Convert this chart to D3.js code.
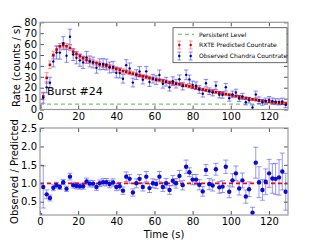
<html>
<head>
<script src="https://d3js.org/d3.v7.min.js"></script>
<style>
  body { margin: 0; background: #fff; }
  text { font-family: "DejaVu Sans", sans-serif; }
  .axis .domain { stroke: none; }
  .axis line { stroke: #555; }
  .axis text { font-size: 10px; fill: #000; }
</style>
</head>
<body>
<svg id="chart" width="320" height="240"></svg>
<script>
// time bins (s)
const times = [0, 1.7, 3.5, 5.2, 7.0, 8.7, 10.4, 12.2, 13.9, 15.7, 17.4, 19.1, 20.9, 22.6, 24.4,
  26.1, 27.8, 29.6, 31.3, 33.1, 34.8, 36.5, 38.3, 40.0, 41.8, 43.5, 45.2, 47.0, 48.7, 50.5,
  52.2, 53.9, 55.7, 57.4, 59.2, 60.9, 62.6, 64.4, 66.1, 67.9, 69.6, 71.3, 73.1, 74.8, 76.6,
  78.3, 80.0, 81.8, 83.5, 85.3, 87.0, 88.7, 90.5, 92.2, 94.0, 95.7, 97.4, 99.2, 100.9, 102.7,
  104.4, 106.1, 107.9, 109.6, 111.4, 113.1, 114.8, 116.6, 118.3, 120.1, 121.8, 123.5, 125.3, 127.0, 128.8];

// RXTE predicted countrate
const predicted = [3, 12, 29, 41, 50, 55, 58, 59, 58, 56.5, 53, 51, 49, 47, 45.5,
  44.5, 43.5, 42.5, 41.5, 40.5, 40, 39.3, 38.3, 37.3, 36.3, 35.3, 34.5, 33.7, 32.9, 32,
  31.2, 30.4, 29.7, 29, 28.3, 27.6, 26.9, 26.2, 25.5, 24.9, 24.3, 23.7, 23.1, 22.5, 21.9,
  21.2, 20.5, 19.8, 19.1, 18.4, 17.7, 17.1, 16.5, 15.9, 15.3, 14.7, 14.1, 13.5, 12.9, 12.3,
  11.7, 11.1, 10.5, 10, 9.3, 8.8, 8.3, 7.9, 7.5, 7.1, 6.8, 6.4, 6.0, 5.7, 5.4];
const predictedErr = [1, 3, 5, 3.5, 3.5, 3, 2.5, 2.5, 2.5, 2.5, 2, 2, 2, 2, 2,
  2, 2, 2, 2, 2, 2, 2, 2, 2, 2, 2, 1.8, 1.8, 1.8, 1.8,
  1.6, 1.6, 1.6, 1.6, 1.5, 1.5, 1.5, 1.5, 1.5, 1.4, 1.4, 1.4, 1.4, 1.3, 1.3,
  1.3, 1.3, 1.2, 1.2, 1.2, 1.2, 1.2, 1.1, 1.1, 1.1, 1.1, 1, 1, 1, 1,
  1, 1, 1, 1, 1, 1, 1, 1, 1, 1, 1, 1, 1, 1, 1];

// observed Chandra countrate
const observed = [0.4, 10.8, 20.3, 24.6, 44, 52.3, 52.2, 60.8, 49.3, 66.7, 50.4, 47.4, 45.1, 43.2, 47.8,
  44.1, 43.1, 38.3, 41.5, 41.7, 41.2, 38.5, 39.1, 33.6, 33.4, 28.2, 40.7, 37.7, 24.7, 32,
  34.9, 27.4, 35, 25.2, 28.3, 27, 31.7, 23.6, 25.5, 20.4, 26, 23.7, 27.7, 21.4, 31.8,
  27.6, 22.6, 21.8, 18.3, 14.4, 24.1, 16.8, 15.5, 21.9, 13.6, 13.4, 20.4, 10.4, 13.9, 15.6,
  10.1, 12, 6.7, 8.4, 1.9, 13.7, 8.5, 6.5, 7.8, 9, 7.7, 7.2, 7, 7.5, 4.2];
const observedErr = [1, 5, 5, 5, 5, 6, 6, 6, 6, 7, 5.5, 5.5, 5.5, 5.5, 5.5,
  5, 5, 5, 5, 5, 5, 5, 5, 4.5, 4.5, 4, 5, 5, 4, 4.5,
  4.5, 4, 4.5, 4, 4, 4, 4.5, 4, 4, 3.5, 4, 4, 4, 3.5, 4.5,
  4, 3.5, 3.5, 3.5, 3, 3.5, 3, 3, 3.5, 3, 3, 3.5, 2.8, 3, 3,
  2.8, 2.8, 2.5, 2.5, 2.2, 3.2, 3, 2.6, 2.7, 2.9, 2.8, 2.7, 2.8, 2.9, 2.6];

// observed / predicted
const ratio = [0.14, 0.9, 0.70, 0.6, 0.88, 0.95, 0.9, 1.03, 0.85, 1.18, 0.95, 0.93, 0.92, 0.92, 1.05,
  0.99, 0.99, 0.9, 1.0, 1.03, 1.03, 0.98, 1.02, 0.9, 0.92, 0.8, 1.18, 1.12, 0.75, 1.0,
  1.12, 0.9, 1.18, 0.87, 1.0, 0.98, 1.18, 0.9, 1.0, 0.82, 1.07, 1.0, 1.2, 0.95, 1.45,
  1.3, 1.1, 1.1, 0.96, 0.78, 1.36, 0.98, 0.94, 1.38, 0.89, 0.91, 1.45, 0.77, 1.08, 1.27,
  0.86, 1.08, 0.64, 0.84, 0.2, 1.56, 1.03, 0.82, 1.04, 1.27, 1.13, 1.12, 1.16, 1.32, 0.77];
const ratioErr = [0.03, 0.57, 0.12, 0.08, 0.08, 0.08, 0.07, 0.07, 0.07, 0.09, 0.08, 0.08, 0.08, 0.08, 0.09,
  0.09, 0.09, 0.09, 0.09, 0.1, 0.1, 0.1, 0.1, 0.1, 0.1, 0.1, 0.13, 0.12, 0.1, 0.12,
  0.12, 0.11, 0.14, 0.12, 0.12, 0.12, 0.14, 0.12, 0.13, 0.12, 0.14, 0.13, 0.15, 0.13, 0.18,
  0.12, 0.14, 0.14, 0.14, 0.13, 0.15, 0.15, 0.15, 0.16, 0.16, 0.16, 0.18, 0.16, 0.18, 0.2,
  0.18, 0.2, 0.18, 0.2, 0.15, 0.42, 0.42, 0.28, 0.35, 0.38, 0.4, 0.42, 0.48, 0.5, 0.5];

const persistentLevel = 5;
const legendLabels = ["Persistent Level", "RXTE Predicted Countrate", "Observed Chandra Countrate"];

const svg = d3.select("#chart");

const x = d3.scaleLinear().domain([0, 130]).range([40, 288]);
const yTop = d3.scaleLinear().domain([0, 80]).range([109.5, 22.3]);
const yBot = d3.scaleLinear().domain([0.14, 2.5]).range([215, 128]);

function drawAxes(y, yTicks, yFmt) {
  const [r0, r1] = x.range();
  const [b, t] = y.range();
  svg.append("g").attr("class", "axis").attr("transform", `translate(0,${b})`)
    .call(d3.axisBottom(x).tickValues([0, 20, 40, 60, 80, 100, 120]).tickSizeInner(-4).tickSizeOuter(0).tickPadding(3));
  svg.append("g").attr("class", "axis").attr("transform", `translate(0,${t})`)
    .call(d3.axisTop(x).tickValues([0, 20, 40, 60, 80, 100, 120]).tickSizeInner(-4).tickSizeOuter(0).tickFormat(""));
  svg.append("g").attr("class", "axis").attr("transform", `translate(${r0},0)`)
    .call(d3.axisLeft(y).tickValues(yTicks).tickFormat(yFmt).tickSizeInner(-4).tickSizeOuter(0).tickPadding(3));
  svg.append("g").attr("class", "axis").attr("transform", `translate(${r1},0)`)
    .call(d3.axisRight(y).tickValues(yTicks).tickSizeInner(-4).tickSizeOuter(0).tickFormat(""));
  svg.append("rect").attr("x", r0).attr("y", t).attr("width", r1 - r0).attr("height", b - t)
    .attr("fill", "none").attr("stroke", "#999").attr("stroke-width", 1.2);
}

function errorBars(g, xs, ys, es, y, color, cap, sw) {
  const data = xs.map((t, i) => ({ t: t, v: ys[i], e: es[i] }));
  const grp = g.append("g").attr("stroke", color).attr("stroke-width", sw);
  grp.selectAll("line.v").data(data).join("line").attr("class", "v")
    .attr("x1", d => x(d.t)).attr("x2", d => x(d.t))
    .attr("y1", d => y(d.v - d.e)).attr("y2", d => y(d.v + d.e));
  grp.selectAll("line.lo").data(data).join("line").attr("class", "lo")
    .attr("x1", d => x(d.t) - cap).attr("x2", d => x(d.t) + cap)
    .attr("y1", d => y(d.v - d.e)).attr("y2", d => y(d.v - d.e));
  grp.selectAll("line.hi").data(data).join("line").attr("class", "hi")
    .attr("x1", d => x(d.t) - cap).attr("x2", d => x(d.t) + cap)
    .attr("y1", d => y(d.v + d.e)).attr("y2", d => y(d.v + d.e));
}

svg.append("clipPath").attr("id", "clipTop").append("rect")
  .attr("x", 40).attr("y", 22.3).attr("width", 248).attr("height", 87.2);
svg.append("clipPath").attr("id", "clipBot").append("rect")
  .attr("x", 40).attr("y", 128).attr("width", 248).attr("height", 87);

// ---- top panel
const topG = svg.append("g").attr("clip-path", "url(#clipTop)");
topG.append("line").attr("x1", x(0)).attr("x2", x(130))
  .attr("y1", yTop(persistentLevel)).attr("y2", yTop(persistentLevel))
  .attr("stroke", "#77c877").attr("stroke-width", 1.2).attr("stroke-dasharray", "4,3");
errorBars(topG, times, predicted, predictedErr, yTop, "rgba(255,80,80,0.6)", 2, 1);
errorBars(topG, times, observed, observedErr, yTop, "rgba(60,60,255,0.6)", 2.2, 1);
topG.selectAll("rect.pred").data(times).join("rect").attr("class", "pred")
  .attr("x", (d) => x(d) - 1.3).attr("y", (d, i) => yTop(predicted[i]) - 1.3)
  .attr("width", 2.6).attr("height", 2.6).attr("fill", "#c00000");
topG.selectAll("circle.obs").data(times).join("circle").attr("class", "obs")
  .attr("cx", d => x(d)).attr("cy", (d, i) => yTop(observed[i])).attr("r", 1.2).attr("fill", "#000080");

drawAxes(yTop, [0, 10, 20, 30, 40, 50, 60, 70, 80], d3.format("d"));

svg.append("text").attr("x", 47).attr("y", 94.5).attr("font-size", 11).text("Burst #24");

// legend
const lg = svg.append("g");
lg.append("rect").attr("x", 173).attr("y", 27.7).attr("width", 114).attr("height", 35)
  .attr("fill", "#fff").attr("stroke", "#444").attr("stroke-width", 0.8);
lg.append("line").attr("x1", 178).attr("x2", 194).attr("y1", 34.3).attr("y2", 34.3)
  .attr("stroke", "#77c877").attr("stroke-width", 1.2).attr("stroke-dasharray", "4,3");
[[45, "rgba(255,80,80,0.6)", "#c00000"], [56, "rgba(60,60,255,0.6)", "#000080"]].forEach(([ly, ec, mc]) => {
  [179.3, 190.7].forEach(lx => {
    lg.append("line").attr("x1", lx).attr("x2", lx).attr("y1", ly - 4).attr("y2", ly + 4).attr("stroke", ec);
    lg.append("line").attr("x1", lx - 2).attr("x2", lx + 2).attr("y1", ly - 4).attr("y2", ly - 4).attr("stroke", ec);
    lg.append("line").attr("x1", lx - 2).attr("x2", lx + 2).attr("y1", ly + 4).attr("y2", ly + 4).attr("stroke", ec);
    lg.append("circle").attr("cx", lx).attr("cy", ly).attr("r", 1.2).attr("fill", mc);
  });
});
lg.selectAll("text").data(legendLabels).join("text")
  .attr("x", 199).attr("y", (d, i) => [34.3, 45, 56][i] + 2.2)
  .attr("font-size", 6).attr("fill", "#000").text(d => d);

// ---- bottom panel
const botG = svg.append("g").attr("clip-path", "url(#clipBot)");
errorBars(botG, times, ratio, ratioErr, yBot, "rgba(80,80,255,0.6)", 2.5, 1);
botG.append("line").attr("x1", x(0)).attr("x2", x(130)).attr("y1", yBot(1)).attr("y2", yBot(1))
  .attr("stroke", "#ff0000").attr("stroke-width", 1.8).attr("stroke-dasharray", "4,3");
botG.selectAll("circle.ratio").data(times).join("circle").attr("class", "ratio")
  .attr("cx", d => x(d)).attr("cy", (d, i) => yBot(ratio[i])).attr("r", 2.2).attr("fill", "#0a0ad0");

drawAxes(yBot, [0.5, 1.0, 1.5, 2.0, 2.5], d3.format(".1f"));

// axis labels
svg.append("text").attr("transform", `translate(20,${(22.3 + 109.5) / 2}) rotate(-90)`)
  .attr("text-anchor", "middle").attr("font-size", 10).text("Rate (counts / s)");
svg.append("text").attr("transform", `translate(18,${(128 + 215) / 2}) rotate(-90)`)
  .attr("text-anchor", "middle").attr("font-size", 10).text("Observed / Predicted");
svg.append("text").attr("x", 164).attr("y", 238).attr("text-anchor", "middle")
  .attr("font-size", 10).text("Time (s)");
</script>
</body>
</html>
